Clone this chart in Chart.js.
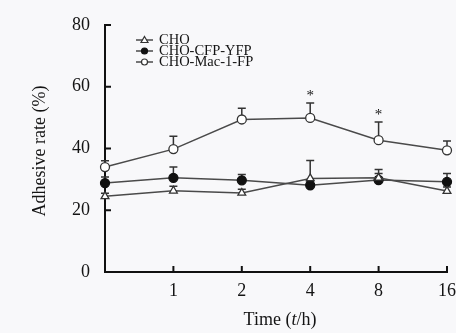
<!DOCTYPE html>
<html>
<head>
<meta charset="utf-8">
<script src="https://cdn.jsdelivr.net/npm/chart.js@4/dist/chart.umd.min.js"></script>
<style>
html,body{margin:0;padding:0;background:#f8f8fa;}
canvas{display:block;}
</style>
</head>
<body>
<canvas id="c" width="456" height="333"></canvas>
<script>
// ---- data ----
const timeLabels = ['', '1', '2', '4', '8', '16'];
const seriesNames = ['CHO', 'CHO-CFP-YFP', 'CHO-Mac-1-FP'];
const choMean = [24.5, 26.3, 25.6, 30.3, 30.5, 26.2];
const choErr  = [1.0, 1.5, 1.2, 5.8, 1.4, 1.3];
const cfpMean = [28.8, 30.5, 29.7, 28.1, 29.8, 29.2];
const cfpErr  = [2.0, 3.5, 1.9, 1.2, 3.4, 2.7];
const macMean = [34.0, 39.8, 49.4, 49.9, 42.7, 39.4];
const macErr  = [2.0, 4.2, 3.6, 4.8, 5.9, 3.0];
const sigMarks = ['', '', '', '*', '*', ''];
const yTicks = [0, 20, 40, 60, 80];
const xTitle = ['Time (', 't', '/h)'];
const yTitle = 'Adhesive rate (%)';

const SERIF = '"Liberation Serif", "DejaVu Serif", serif';
const LINE = '#4a4a4a';
const TXT = '#141414';
const errs = [choErr, cfpErr, macErr];

const bgPlugin = {
  id: 'bg',
  beforeDraw(chart) {
    const c = chart.ctx;
    c.save();
    c.fillStyle = '#f8f8fa';
    c.fillRect(0, 0, chart.width, chart.height);
    c.restore();
  }
};

const errPlugin = {
  id: 'errbars',
  beforeDatasetsDraw(chart) {
    const c = chart.ctx, xs = chart.scales.x, ys = chart.scales.y;
    c.save();
    c.strokeStyle = '#333';
    c.lineWidth = 1.5;
    chart.data.datasets.forEach((ds, i) => {
      ds.data.forEach((v, j) => {
        const x = xs.getPixelForValue(j);
        const y = ys.getPixelForValue(v);
        const yt = ys.getPixelForValue(v + errs[i][j]);
        c.beginPath();
        c.moveTo(x, y); c.lineTo(x, yt);
        c.moveTo(x - 4, yt); c.lineTo(x + 4, yt);
        c.stroke();
      });
    });
    c.fillStyle = TXT;
    c.font = '15px ' + SERIF;
    c.textAlign = 'center';
    c.textBaseline = 'middle';
    sigMarks.forEach((m, j) => {
      if (!m) return;
      const x = xs.getPixelForValue(j);
      const yt = ys.getPixelForValue(macMean[j] + macErr[j]);
      c.fillText(m, x, yt - 7);
    });
    c.restore();
  }
};

const decoPlugin = {
  id: 'deco',
  afterDraw(chart) {
    const c = chart.ctx, xs = chart.scales.x, ys = chart.scales.y;
    const a = chart.chartArea;
    c.save();
    c.strokeStyle = '#111';
    c.lineWidth = 2;
    yTicks.forEach(v => {
      const y = ys.getPixelForValue(v);
      c.beginPath(); c.moveTo(a.left, y); c.lineTo(a.left + 6, y); c.stroke();
    });
    timeLabels.forEach((l, j) => {
      if (j === 0) return;
      const x = xs.getPixelForValue(j);
      c.beginPath(); c.moveTo(x, a.bottom); c.lineTo(x, a.bottom - 6); c.stroke();
    });
    c.fillStyle = TXT;
    c.textBaseline = 'middle';
    const f = '18px ' + SERIF, fi = 'italic 18px ' + SERIF;
    c.font = f; const w0 = c.measureText(xTitle[0]).width, w2 = c.measureText(xTitle[2]).width;
    c.font = fi; const w1 = c.measureText(xTitle[1]).width;
    let x0 = 280 - (w0 + w1 + w2) / 2;
    const ty = 320;
    c.textAlign = 'left';
    c.font = f; c.fillText(xTitle[0], x0, ty);
    c.font = fi; c.fillText(xTitle[1], x0 + w0, ty);
    c.font = f; c.fillText(xTitle[2], x0 + w0 + w1, ty);
    c.save();
    c.translate(40, 151);
    c.rotate(-Math.PI / 2);
    c.textAlign = 'center';
    c.font = f;
    c.fillText(yTitle, 0, 0);
    c.restore();
    const ly = [40, 51, 62];
    chart.data.datasets.forEach((ds, i) => {
      const y = ly[i];
      c.strokeStyle = LINE; c.lineWidth = 1.5;
      c.beginPath(); c.moveTo(136, y); c.lineTo(153, y); c.stroke();
      c.fillStyle = ds.pointBackgroundColor;
      c.strokeStyle = ds.pointBorderColor; c.lineWidth = 1.2;
      c.beginPath();
      if (ds.pointStyle === 'triangle') {
        c.moveTo(144.5, y - 3.5); c.lineTo(148, y + 2.5); c.lineTo(141, y + 2.5); c.closePath();
      } else {
        c.arc(144.5, y, 3, 0, Math.PI * 2);
      }
      c.fill(); c.stroke();
      c.fillStyle = TXT;
      c.font = '14.5px ' + SERIF;
      c.textAlign = 'left';
      c.fillText(ds.label, 159, y + 0.5);
    });
    c.restore();
  }
};

new Chart(document.getElementById('c'), {
  type: 'line',
  data: {
    labels: timeLabels,
    datasets: [
      { label: seriesNames[0], data: choMean, pointStyle: 'triangle', pointRadius: 4.5,
        pointBackgroundColor: '#ffffff', pointBorderColor: '#333', pointBorderWidth: 1.3,
        borderColor: LINE, borderWidth: 1.5, tension: 0 },
      { label: seriesNames[1], data: cfpMean, pointStyle: 'circle', pointRadius: 4.5,
        pointBackgroundColor: '#111111', pointBorderColor: '#111', pointBorderWidth: 1.3,
        borderColor: LINE, borderWidth: 1.5, tension: 0 },
      { label: seriesNames[2], data: macMean, pointStyle: 'circle', pointRadius: 4.5,
        pointBackgroundColor: '#ffffff', pointBorderColor: '#333', pointBorderWidth: 1.3,
        borderColor: LINE, borderWidth: 1.5, tension: 0 }
    ]
  },
  options: {
    responsive: false,
    animation: false,
    layout: { padding: { top: 25, right: 9, left: 0, bottom: 0 } },
    plugins: { legend: { display: false }, tooltip: { enabled: false } },
    scales: {
      x: {
        type: 'category', offset: false,
        grid: { display: false, drawTicks: false },
        border: { color: '#111', width: 2 },
        ticks: { color: TXT, font: { family: SERIF, size: 18 }, padding: 8, maxRotation: 0, autoSkip: false },
        afterFit(s) { s.height = 61; s.paddingRight = 0; s.paddingLeft = 0; }
      },
      y: {
        min: 0, max: 80,
        grid: { display: false, drawTicks: false },
        border: { color: '#111', width: 2 },
        ticks: { stepSize: 20, color: TXT, font: { family: SERIF, size: 18 }, padding: 15 },
        afterFit(s) { s.width = 105; s.paddingTop = 0; s.paddingBottom = 0; }
      }
    }
  },
  plugins: [bgPlugin, errPlugin, decoPlugin]
});
</script>
</body>
</html>
